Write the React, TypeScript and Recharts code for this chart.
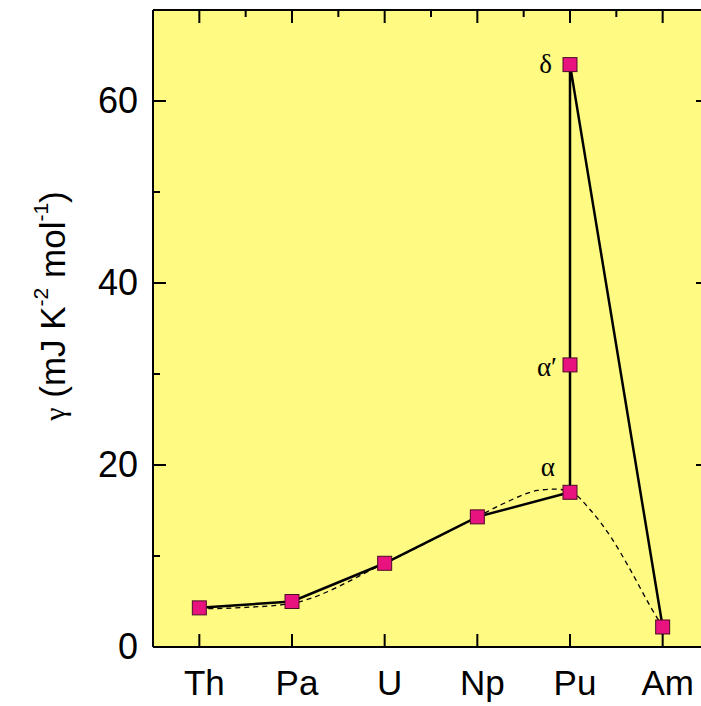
import React from 'react';
import { LineChart, Line, XAxis, YAxis, CartesianGrid, LabelList, Label } from 'recharts';

// elements along the x axis
const ELEMENTS = ['Th', 'Pa', 'U', 'Np', 'Pu', 'Am'];

// measured gamma (solid path): Th, Pa, U, Np, Pu(alpha), Pu(alpha'), Pu(delta), Am
const GAMMA_POS = [0, 1, 2, 3, 4, 4, 4, 5];
const GAMMA = [4.3, 5.0, 9.2, 14.3, 17.0, 31.0, 64.0, 2.2];
const PHASE = ['', '', '', '', 'α', 'α′', 'δ', ''];

// dashed guide curve
const GUIDE_POS = [0, 0.5, 1, 2, 3, 3.29, 3.65, 3.83, 4, 4.22, 4.44, 4.65, 4.87, 5];
const GUIDE = [4.2, 4.35, 4.8, 9.2, 14.3, 15.8, 17.2, 17.35, 17.1, 15.05, 12.1, 8.5, 4.4, 2.2];

const Y_TICKS = [0, 10, 20, 30, 40, 50, 60];
const Y_LABELED = [0, 20, 40, 60];
const X_TICKS = [0, 0.5, 1, 1.5, 2, 2.5, 3, 3.5, 4, 4.5, 5];

const measured = GAMMA_POS.map((x, i) => ({ x, y: GAMMA[i], phase: PHASE[i] }));
const guide = GUIDE_POS.map((x, i) => ({ x, y: GUIDE[i] }));

// chart geometry
const W = 760;
const H = 706;
const MARGIN = { top: 5, right: 41, left: 93, bottom: 29 };
const LEFT_W = 60;
const RIGHT_W = 10;
const TOP_H = 5;
const BOTTOM_H = 30;
const PLOT_LEFT = MARGIN.left + LEFT_W;
const PLOT_RIGHT = W - MARGIN.right - RIGHT_W;
const PLOT_TOP = MARGIN.top + TOP_H;
const PLOT_BOTTOM = H - MARGIN.bottom - BOTTOM_H;

const SANS = '"Liberation Sans", Arial, sans-serif';
const SERIF = '"Liberation Serif", "Times New Roman", serif';
const MAJOR = 13;
const MINOR = 7;

// bottom axis renderer also draws the mirrored ticks on the top frame
const XTick = (props: any) => {
  const { x, payload } = props;
  const major = Number.isInteger(payload.value);
  const top = `M${x},${PLOT_TOP}V${PLOT_TOP + (major ? MAJOR : MINOR)}`;
  const bottom = major ? `M${x},${PLOT_BOTTOM}V${PLOT_BOTTOM - MAJOR}` : '';
  return (
    <g>
      <path d={top + bottom} stroke="#000" strokeWidth={2} fill="none" />
      {major && (
        <text x={x + 5} y={PLOT_BOTTOM + 48} textAnchor="middle" fontSize={35} fontFamily={SANS} fill="#000">
          {ELEMENTS[payload.value]}
        </text>
      )}
    </g>
  );
};

// left axis renderer also draws the mirrored ticks on the right frame
const YTick = (props: any) => {
  const { y, payload } = props;
  const major = Y_LABELED.includes(payload.value);
  const len = major ? MAJOR : MINOR;
  const d = `M${PLOT_LEFT},${y}H${PLOT_LEFT + len}M${PLOT_RIGHT},${y}H${PLOT_RIGHT - len}`;
  return (
    <g>
      <path d={d} stroke="#000" strokeWidth={2} fill="none" />
      {major && (
        <text x={PLOT_LEFT - 15} y={y + 12} textAnchor="end" fontSize={36} fontFamily={SANS} fill="#000">
          {payload.value}
        </text>
      )}
    </g>
  );
};

const Square = (props: any) => {
  const { cx, cy, index } = props;
  return (
    <rect
      key={`sq-${index}`}
      x={cx - 7}
      y={cy - 7}
      width={14}
      height={14}
      fill="#e8137f"
      stroke="#4a0c26"
      strokeWidth={1}
    />
  );
};

const PHASE_OFFSET: Record<string, [number, number]> = {
  'α': [-15, -16],
  'α′': [-13, 11],
  'δ': [-18, 8],
};

const PhaseLabel = (props: any) => {
  const { x, y, value } = props;
  if (!value) return null;
  const [dx, dy] = PHASE_OFFSET[value] || [0, 0];
  return (
    <text x={x + dx} y={y + dy} textAnchor="end" fontSize={27} fontFamily={SERIF} fill="#000">
      {value}
    </text>
  );
};

const YTitle = () => {
  const cx = 65;
  const cy = 306;
  return (
    <text
      x={cx}
      y={cy}
      transform={`rotate(-90, ${cx}, ${cy})`}
      textAnchor="middle"
      fontSize={35}
      fontFamily={SANS}
      fill="#000"
    >
      <tspan fontFamily={SERIF} fontSize={30}>γ</tspan>
      <tspan> (mJ K</tspan>
      <tspan dy={-17} fontSize={21}>-2</tspan>
      <tspan dy={17}> mol</tspan>
      <tspan dy={-17} fontSize={21}>-1</tspan>
      <tspan dy={17}>)</tspan>
    </text>
  );
};

export default function App() {
  return (
    <div style={{ position: 'absolute', left: 0, top: 0, width: 701, height: 706, overflow: 'hidden', background: '#fff' }}>
      <LineChart width={W} height={H} margin={MARGIN}>
        <CartesianGrid horizontal={false} vertical={false} fill="#fffa82" stroke="none" />
        <XAxis
          xAxisId="bottom"
          type="number"
          dataKey="x"
          domain={[-0.5, 5.5]}
          allowDataOverflow
          ticks={X_TICKS}
          interval={0}
          height={BOTTOM_H}
          tickSize={0}
          tickMargin={0}
          tickLine={false}
          axisLine={{ stroke: '#000', strokeWidth: 2 }}
          tick={XTick}
        />
        <XAxis
          xAxisId="top"
          orientation="top"
          type="number"
          domain={[-0.5, 5.5]}
          allowDataOverflow
          height={TOP_H}
          tick={false}
          tickLine={false}
          axisLine={{ stroke: '#000', strokeWidth: 2 }}
        />
        <YAxis
          yAxisId="left"
          type="number"
          domain={[0, 70]}
          allowDataOverflow
          ticks={Y_TICKS}
          interval={0}
          width={LEFT_W}
          tickSize={0}
          tickMargin={0}
          tickLine={false}
          axisLine={{ stroke: '#000', strokeWidth: 2 }}
          tick={YTick}
        >
          <Label content={YTitle} />
        </YAxis>
        <YAxis
          yAxisId="right"
          orientation="right"
          type="number"
          domain={[0, 70]}
          allowDataOverflow
          width={RIGHT_W}
          tick={false}
          tickLine={false}
          axisLine={{ stroke: '#000', strokeWidth: 2 }}
        />
        <Line
          xAxisId="bottom"
          yAxisId="left"
          data={measured}
          dataKey="y"
          type="linear"
          stroke="#000"
          strokeWidth={2.5}
          dot={Square}
          activeDot={false}
          isAnimationActive={false}
        >
          <LabelList dataKey="phase" content={PhaseLabel} />
        </Line>
        <Line
          xAxisId="bottom"
          yAxisId="left"
          data={guide}
          dataKey="y"
          type="monotone"
          stroke="#000"
          strokeWidth={1.3}
          strokeDasharray="5 4"
          dot={false}
          activeDot={false}
          isAnimationActive={false}
        />
      </LineChart>
    </div>
  );
}
